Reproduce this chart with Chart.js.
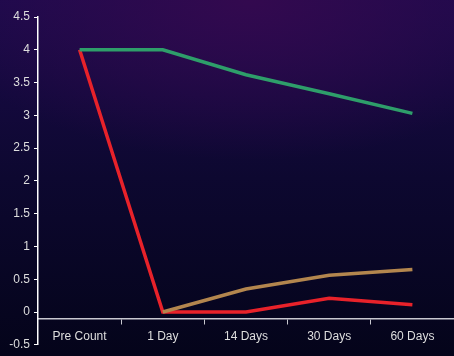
<!DOCTYPE html>
<html>
<head>
<meta charset="utf-8">
<script src="https://cdn.jsdelivr.net/npm/chart.js@4/dist/chart.umd.min.js"></script>
<style>
  html, body { margin: 0; padding: 0; }
  body {
    width: 454px; height: 356px; overflow: hidden;
    background: radial-gradient(ellipse 70% 45% at 55% 0%, #33094f 0%, rgba(40,8,70,0) 100%),
                linear-gradient(to bottom, #1c0a4c 0%, #0d0830 50%, #04041a 100%);
  }
</style>
</head>
<body>
<canvas id="grafico" width="454" height="356"></canvas>
<script>
const categorias = ["Pre Count", "1 Day", "14 Days", "30 Days", "60 Days"];
const serieVerde = [4, 4, 3.62, 3.33, 3.03];
const serieCafe = [null, 0, 0.35, 0.56, 0.65];
const serieRoja = [4, 0, 0, 0.21, 0.11];
const ticksY = [-0.5, 0, 0.5, 1, 1.5, 2, 2.5, 3, 3.5, 4, 4.5];

const colorTexto = "#dedede";
Chart.defaults.font.family = "'Liberation Sans', Arial, sans-serif";
Chart.defaults.font.size = 12;
Chart.defaults.color = colorTexto;

const ctx = document.getElementById("grafico").getContext("2d");

new Chart(ctx, {
  type: "line",
  data: {
    labels: categorias,
    datasets: [
      { data: serieVerde, borderColor: "#2e9e6a" },
      { data: serieCafe, borderColor: "#b3864e" },
      { data: serieRoja, borderColor: "#e8222a" },
    ].map((d) => ({ ...d, borderWidth: 3.5, tension: 0, pointRadius: 0, fill: false })),
  },
  options: {
    responsive: false,
    animation: false,
    events: [],
    layout: { padding: { top: 17, right: 0, bottom: 0, left: 0 } },
    plugins: { legend: { display: false }, tooltip: { enabled: false } },
    scales: {
      x: {
        position: { y: -0.1 },
        offset: true,
        grid: { drawOnChartArea: false, drawTicks: true, tickLength: 5, color: "#c8c8d0", offset: true },
        border: { color: "#c8c8d0", width: 1.5 },
        ticks: { color: colorTexto, padding: 6, maxRotation: 0 },
      },
      y: {
        min: -0.5,
        max: 4.5,
        afterBuildTicks: (scale) => {
          scale.ticks = ticksY.map((v) => ({ value: v }));
        },
        grid: { drawOnChartArea: false, drawTicks: true, tickLength: 4, color: "#ffffff" },
        border: { color: "#ffffff", width: 1.5 },
        ticks: { color: colorTexto, padding: 4, callback: (v) => String(v) },
        afterFit: (scale) => { scale.width = 38; },
      },
    },
  },
});
</script>
</body>
</html>
